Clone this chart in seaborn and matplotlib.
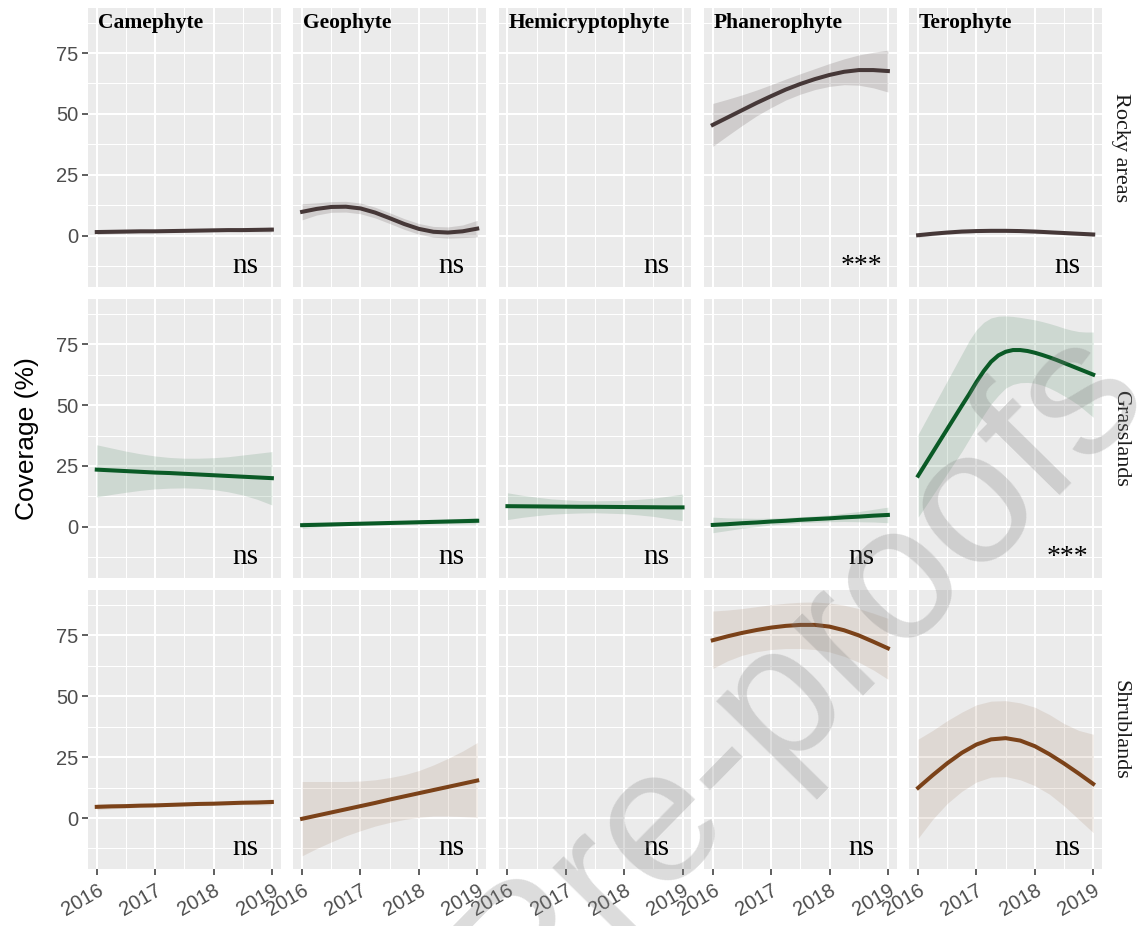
import numpy as np
import pandas as pd
import matplotlib
matplotlib.use('Agg')
import matplotlib.pyplot as plt
import seaborn as sns

# ---- data (fitted smooth + confidence band) ----
YEARS = [2016.0, 2016.25, 2016.5, 2016.75, 2017.0, 2017.25, 2017.5,
         2017.75, 2018.0, 2018.25, 2018.5, 2018.75, 2019.0]
# finer grid for the sharply bending grassland terophyte curve
YEARS_FINE = [2016.0, 2016.125, 2016.25, 2016.375, 2016.5, 2016.625, 2016.75, 2016.875,
              2017.0, 2017.125, 2017.25, 2017.375, 2017.5, 2017.625, 2017.75, 2017.875,
              2018.0, 2018.125, 2018.25, 2018.375, 2018.5, 2018.625, 2018.75, 2018.875, 2019.0]
HABITATS = ['Rocky areas', 'Grasslands', 'Shrublands']
FORMS = ['Camephyte', 'Geophyte', 'Hemicryptophyte', 'Phanerophyte', 'Terophyte']

# Rocky areas
rocky_cam_fit = [1.5, 1.6, 1.7, 1.8, 1.8, 1.9, 2.0, 2.1, 2.2, 2.3, 2.3, 2.4, 2.5]
rocky_cam_lo = [0.6, 0.8, 1.0, 1.2, 1.3, 1.4, 1.5, 1.6, 1.7, 1.7, 1.6, 1.6, 1.5]
rocky_cam_hi = [2.4, 2.4, 2.4, 2.4, 2.3, 2.4, 2.5, 2.6, 2.7, 2.9, 3.0, 3.2, 3.5]
rocky_geo_fit = [9.8, 11.0, 11.8, 11.9, 11.2, 9.5, 7.2, 4.8, 2.8, 1.6, 1.3, 1.8, 2.9]
rocky_geo_lo = [6.5, 8.5, 9.6, 9.7, 9.0, 7.3, 5.0, 2.6, 0.6, -0.6, -1.0, -0.8, -0.5]
rocky_geo_hi = [13.1, 13.5, 14.0, 14.1, 13.4, 11.7, 9.4, 7.0, 5.0, 3.8, 3.6, 4.4, 6.3]
rocky_pha_fit = [45.5, 48.5, 51.5, 54.5, 57.3, 60.0, 62.3, 64.3, 66.0, 67.3, 68.0, 68.0, 67.6]
rocky_pha_lo = [36.7, 41.0, 45.2, 49.2, 52.6, 55.7, 58.1, 60.0, 61.3, 62.0, 61.8, 60.7, 59.0]
rocky_pha_hi = [54.3, 56.0, 57.8, 59.8, 62.0, 64.3, 66.5, 68.6, 70.7, 72.6, 74.2, 75.3, 76.2]
rocky_ter_fit = [0.2, 0.8, 1.3, 1.7, 1.9, 2.0, 2.0, 1.9, 1.7, 1.4, 1.1, 0.8, 0.5]
rocky_ter_lo = [-0.6, 0.0, 0.6, 1.0, 1.3, 1.4, 1.4, 1.3, 1.1, 0.8, 0.4, 0.0, -0.3]
rocky_ter_hi = [1.0, 1.6, 2.0, 2.4, 2.5, 2.6, 2.6, 2.5, 2.3, 2.0, 1.8, 1.6, 1.3]

# Grasslands
grass_cam_fit = [23.5, 23.2, 22.9, 22.6, 22.3, 22.1, 21.8, 21.5, 21.2, 20.9, 20.6, 20.3, 20.0]
grass_cam_lo = [12.3, 13.3, 14.2, 15.0, 15.6, 15.9, 16.0, 15.8, 15.3, 14.4, 13.1, 11.3, 9.0]
grass_cam_hi = [33.7, 32.4, 31.1, 30.0, 29.1, 28.5, 28.2, 28.2, 28.4, 28.8, 29.5, 30.2, 30.9]
grass_geo_fit = [0.7, 0.85, 1.0, 1.15, 1.3, 1.45, 1.6, 1.75, 1.9, 2.05, 2.2, 2.35, 2.5]
grass_geo_lo = [-0.6, -0.2, 0.2, 0.5, 0.7, 0.8, 0.9, 1.0, 1.1, 1.2, 1.2, 1.2, 1.2]
grass_geo_hi = [2.0, 1.9, 1.8, 1.8, 1.9, 2.1, 2.3, 2.5, 2.7, 2.9, 3.2, 3.5, 3.8]
grass_hem_fit = [8.5, 8.45, 8.4, 8.35, 8.3, 8.25, 8.25, 8.2, 8.15, 8.1, 8.05, 8.0, 8.0]
grass_hem_lo = [3.0, 3.9, 4.6, 5.2, 5.5, 5.7, 5.8, 5.6, 5.4, 4.9, 4.3, 3.4, 2.5]
grass_hem_hi = [14.0, 13.0, 12.2, 11.5, 11.1, 10.8, 10.7, 10.8, 10.9, 11.3, 11.8, 12.6, 13.5]
grass_pha_fit = [0.8, 1.1, 1.5, 1.8, 2.2, 2.5, 2.9, 3.2, 3.5, 3.9, 4.2, 4.6, 4.9]
grass_pha_lo = [-2.4, -1.5, -0.6, 0.1, 0.8, 1.2, 1.7, 1.9, 2.1, 2.2, 2.1, 2.0, 1.7]
grass_pha_hi = [4.0, 3.7, 3.6, 3.5, 3.6, 3.8, 4.1, 4.5, 4.9, 5.6, 6.3, 7.2, 8.1]
grass_ter_fit = [21.0, 25.8, 30.6, 35.4, 40.2, 45.0, 49.8, 54.5, 59.5, 64.0, 67.8, 70.4, 71.9,
                 72.6, 72.6, 72.2, 71.5, 70.6, 69.6, 68.5, 67.3, 66.1, 64.9, 63.7, 62.5]
grass_ter_lo = [4.0, 8.5, 13.0, 17.5, 22.0, 26.5, 31.0, 36.0, 41.0, 46.0, 50.5, 54.0, 57.0,
                58.5, 59.2, 59.3, 59.0, 58.2, 57.0, 55.5, 53.8, 52.0, 50.0, 47.5, 45.0]
grass_ter_hi = [38.0, 43.5, 49.0, 54.5, 60.0, 65.5, 71.0, 76.5, 81.0, 84.0, 85.8, 86.5, 86.6,
                86.4, 86.0, 85.5, 85.0, 84.3, 83.5, 82.6, 81.6, 80.8, 80.2, 80.0, 80.0]

# Shrublands
shrub_cam_fit = [4.6, 4.8, 4.9, 5.1, 5.2, 5.4, 5.6, 5.8, 5.9, 6.1, 6.3, 6.4, 6.6]
shrub_cam_lo = [3.4, 3.8, 4.1, 4.4, 4.6, 4.8, 5.0, 5.2, 5.3, 5.4, 5.5, 5.4, 5.4]
shrub_cam_hi = [5.8, 5.8, 5.7, 5.8, 5.8, 6.0, 6.2, 6.4, 6.5, 6.8, 7.1, 7.4, 7.8]
shrub_geo_fit = [-0.3, 1.0, 2.3, 3.6, 4.9, 6.2, 7.6, 8.9, 10.2, 11.5, 12.8, 14.1, 15.4]
shrub_geo_lo = [-15.5, -12.5, -9.8, -7.3, -5.2, -3.3, -1.8, -0.6, 0.3, 0.8, 0.8, 0.6, 0.3]
shrub_geo_hi = [15.0, 15.0, 15.0, 15.0, 15.2, 15.7, 16.6, 17.8, 19.5, 21.8, 24.5, 27.5, 31.0]
shrub_pha_fit = [73.0, 74.6, 76.0, 77.2, 78.2, 78.9, 79.3, 79.3, 78.6, 77.1, 75.0, 72.4, 69.7]
shrub_pha_lo = [61.4, 64.5, 66.8, 68.3, 69.2, 69.6, 69.6, 69.2, 68.2, 66.4, 64.0, 60.8, 57.0]
shrub_pha_hi = [85.0, 85.4, 86.0, 86.8, 87.6, 88.2, 88.6, 88.7, 88.3, 87.4, 86.0, 84.1, 82.0]
shrub_ter_fit = [12.4, 17.6, 22.5, 26.8, 30.2, 32.3, 32.8, 31.8, 29.5, 26.2, 22.4, 18.3, 14.0]
shrub_ter_lo = [-8.3, -0.5, 6.0, 11.0, 14.8, 16.8, 17.0, 15.7, 13.3, 9.8, 5.0, -0.5, -6.0]
shrub_ter_hi = [32.4, 36.0, 40.0, 43.5, 46.5, 48.0, 48.2, 47.3, 45.5, 42.5, 38.8, 36.0, 34.4]

# significance label per panel (row by row)
rocky_sig = ['ns', 'ns', 'ns', '***', 'ns']
grass_sig = ['ns', 'ns', 'ns', 'ns', '***']
shrub_sig = ['ns', 'ns', 'ns', 'ns', 'ns']

LINE_COLORS = {'Rocky areas': '#463838', 'Grasslands': '#0A5A26', 'Shrublands': '#7B4219'}
RIBBON_ALPHA = {'Rocky areas': 0.17, 'Grasslands': 0.13, 'Shrublands': 0.11}

curves = {
    ('Rocky areas', 'Camephyte'): (YEARS, rocky_cam_fit, rocky_cam_lo, rocky_cam_hi),
    ('Rocky areas', 'Geophyte'): (YEARS, rocky_geo_fit, rocky_geo_lo, rocky_geo_hi),
    ('Rocky areas', 'Phanerophyte'): (YEARS, rocky_pha_fit, rocky_pha_lo, rocky_pha_hi),
    ('Rocky areas', 'Terophyte'): (YEARS, rocky_ter_fit, rocky_ter_lo, rocky_ter_hi),
    ('Grasslands', 'Camephyte'): (YEARS, grass_cam_fit, grass_cam_lo, grass_cam_hi),
    ('Grasslands', 'Geophyte'): (YEARS, grass_geo_fit, grass_geo_lo, grass_geo_hi),
    ('Grasslands', 'Hemicryptophyte'): (YEARS, grass_hem_fit, grass_hem_lo, grass_hem_hi),
    ('Grasslands', 'Phanerophyte'): (YEARS, grass_pha_fit, grass_pha_lo, grass_pha_hi),
    ('Grasslands', 'Terophyte'): (YEARS_FINE, grass_ter_fit, grass_ter_lo, grass_ter_hi),
    ('Shrublands', 'Camephyte'): (YEARS, shrub_cam_fit, shrub_cam_lo, shrub_cam_hi),
    ('Shrublands', 'Geophyte'): (YEARS, shrub_geo_fit, shrub_geo_lo, shrub_geo_hi),
    ('Shrublands', 'Phanerophyte'): (YEARS, shrub_pha_fit, shrub_pha_lo, shrub_pha_hi),
    ('Shrublands', 'Terophyte'): (YEARS, shrub_ter_fit, shrub_ter_lo, shrub_ter_hi),
}
sig = {'Rocky areas': rocky_sig, 'Grasslands': grass_sig, 'Shrublands': shrub_sig}

rows = []
for (hab, form), (yrs, fit, lo, hi) in curves.items():
    for yr, f, l, h in zip(yrs, fit, lo, hi):
        rows.append({'habitat': hab, 'form': form, 'year': yr, 'fit': f, 'lo': l, 'hi': h})
df = pd.DataFrame(rows)

SERIF = 'Liberation Serif'
SANS = 'Liberation Sans'
plt.rcParams['font.family'] = SANS
plt.rcParams['axes.facecolor'] = '#EBEBEB'


def draw_panel(data, color=None, **kws):
    ax = plt.gca()
    hab = data['habitat'].iloc[0]
    c = LINE_COLORS[hab]
    ax.fill_between(data['year'], data['lo'], data['hi'], color=c,
                    alpha=RIBBON_ALPHA[hab], lw=0, zorder=2)
    sns.lineplot(data=data, x='year', y='fit', color=c, lw=2.9, ax=ax,
                 estimator=None, sort=True, zorder=3)


g = sns.FacetGrid(df, row='habitat', col='form', row_order=HABITATS, col_order=FORMS,
                  sharex=True, sharey=True, height=3, aspect=0.7, despine=False)
g.map_dataframe(draw_panel)
g.figure.set_size_inches(11.37, 9.26)
g.figure.subplots_adjust(left=0.0774, right=0.9692, top=0.9914, bottom=0.0616,
                         wspace=0.066, hspace=0.045)
g.set_axis_labels('', '')

for i, hab in enumerate(HABITATS):
    for j, form in enumerate(FORMS):
        ax = g.axes[i, j]
        ax.set_title('')
        ax.set_facecolor('#EBEBEB')
        for s in ax.spines.values():
            s.set_visible(False)
        ax.set_xlim(2015.85, 2019.15)
        ax.set_ylim(-20.9, 93.5)
        ax.set_xticks([2016, 2017, 2018, 2019])
        ax.set_xticks([2016.5, 2017.5, 2018.5], minor=True)
        ax.set_yticks([0, 25, 50, 75])
        ax.set_yticks([-12.5, 12.5, 37.5, 62.5, 87.5], minor=True)
        ax.grid(which='major', color='white', lw=1.5, zorder=0)
        ax.grid(which='minor', color='white', lw=0.75, zorder=0)
        ax.set_axisbelow(True)
        ax.tick_params(which='minor', length=0)
        ax.tick_params(axis='both', which='major', length=4.5, width=1.1,
                       color='#333333', labelcolor='#4D4D4D', labelsize=14.5, pad=2.5)
        if j != 0:
            ax.tick_params(axis='y', length=0)
        if i != len(HABITATS) - 1:
            ax.tick_params(axis='x', length=0)
        else:
            ax.tick_params(axis='x', pad=4)
            ax.set_xticks([2016, 2017, 2018, 2019])
            ax.set_xticklabels(['2016', '2017', '2018', '2019'], rotation=30,
                               ha='right', va='top', rotation_mode='anchor')
        ax.text(2018.55, -15.3, sig[hab][j], ha='center', va='baseline',
                family=SERIF, fontsize=21 if sig[hab][j] == 'ns' else 20, color='black')
        if i == 0:
            ax.text(0.05, 0.945, form, transform=ax.transAxes, ha='left', va='center',
                    family=SERIF, fontweight='bold', fontsize=15.5, color='black')
        if j == len(FORMS) - 1:
            ax.text(1.095, 0.5, hab, transform=ax.transAxes, rotation=270,
                    ha='center', va='center', family=SERIF, fontsize=16, color='#1A1A1A')

g.figure.text(0.0237, 0.526, 'Coverage (%)', rotation=90, ha='center', va='center',
              fontsize=19, family=SANS, color='black')

# journal watermark
g.figure.text(1.014, 0.567, 'Journal Pre-proofs', rotation=45.5, rotation_mode='anchor',
              ha='right', va='baseline', fontsize=138, family=SANS,
              color='#7F7F7F', alpha=0.27, zorder=10)

g.figure.savefig('out.png', dpi=100)
